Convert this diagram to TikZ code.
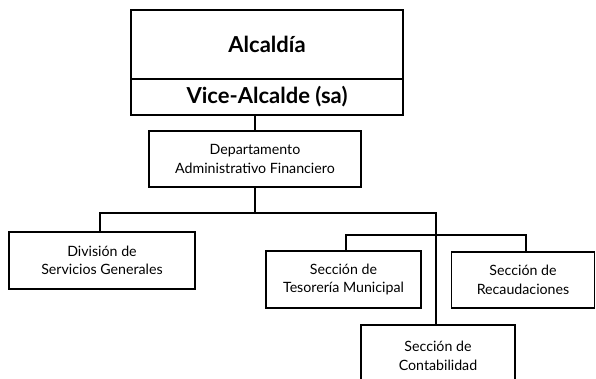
\documentclass[tikz,border=0pt]{standalone}
\usepackage{fontspec}
\setmainfont{Lato}
\begin{document}
\begin{tikzpicture}[x=1pt,y=-1pt,
  box/.style={draw=black,line width=1.4pt,fill=white,inner sep=0pt,align=center,
    font=\fontsize{14.2}{18.5}\selectfont},
  big/.style={box,font=\fontsize{22}{26}\bfseries\selectfont},
  conn/.style={draw=black,line width=1.4pt}]
\useasboundingbox (0,0) rectangle (596,379);
\clip (0,0) rectangle (596,379);
\node[big,minimum width=272pt,minimum height=69pt] (alc) at (267,44.5) {Alcaldía};
\node[big,minimum width=272pt,minimum height=36pt] (vice) at (267,97) {Vice-Alcalde (sa)};
\node[box,minimum width=212pt,minimum height=56pt] (dept) at (255,159) {Departamento\\Administrativo Financiero};
\node[box,minimum width=186pt,minimum height=57pt] (div) at (102,260.5) {División de\\Servicios Generales};
\node[box,minimum width=155pt,minimum height=57pt] (tes) at (343.5,279.5) {Sección de\\Tesorería Municipal};
\node[box,minimum width=143pt,minimum height=56pt] (rec) at (523,280) {Sección de\\Recaudaciones};
\node[box,minimum width=154pt,minimum height=70pt,text depth=0pt] (cont) at (438,360) {};
\node[font=\fontsize{14.2}{18.5}\selectfont,align=center] (contt) at (438,356) {Sección de\\Contabilidad};
\coordinate (busL) at (100,213);
\coordinate (busR) at (436,213);
\coordinate (sbL) at (346,235);
\coordinate (sbR) at (526,235);
\draw[conn] (dept.north) -- (dept.north |- vice.south);
\draw[conn] (dept.south) -- (dept.south |- busL);
\draw[conn] (busL |- div.north) -- (busL) -- (busR) -- (busR |- cont.north);
\draw[conn] (sbL |- tes.north) -- (sbL) -- (sbR) -- (sbR |- rec.north);
\end{tikzpicture}
\end{document}
